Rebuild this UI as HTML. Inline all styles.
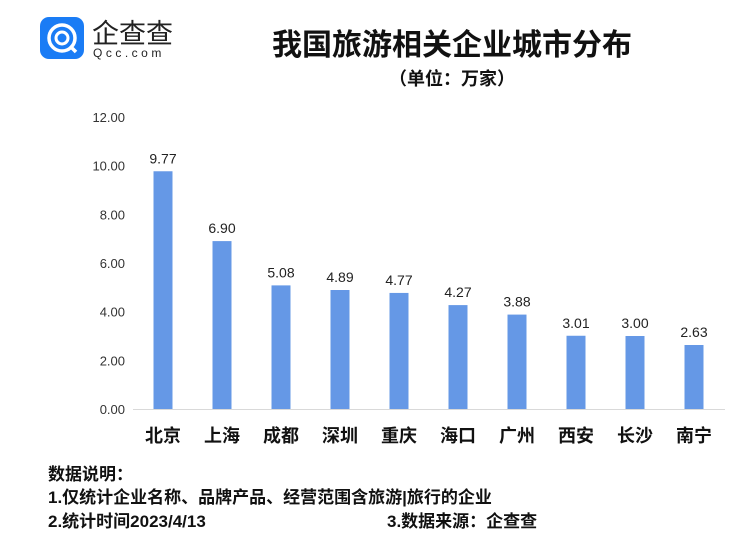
<!DOCTYPE html>
<html><head><meta charset="utf-8"><style>
body{margin:0;width:755px;height:549px;background:#fff;overflow:hidden;font-family:"Liberation Sans","Noto Sans CJK SC",sans-serif;}
</style></head><body>
<svg width="755" height="549" xmlns="http://www.w3.org/2000/svg">
<g>
<rect x="40" y="17" width="44" height="42" rx="9" fill="#1a7cf5"/>
<circle cx="62" cy="38" r="13" fill="none" stroke="#fff" stroke-width="3.5"/>
<circle cx="62" cy="38" r="6" fill="none" stroke="#fff" stroke-width="3"/>
<line x1="70" y1="46" x2="76" y2="52" stroke="#fff" stroke-width="3.5"/>
<text x="92" y="43" font-size="27" fill="#222" font-family="'Noto Sans CJK SC',sans-serif">企查查</text>
<text x="93" y="57" font-size="12" fill="#222" letter-spacing="3.5">Qcc.com</text>
</g>
<text x="452" y="55" font-size="30" font-weight="bold" text-anchor="middle" fill="#111">我国旅游相关企业城市分布</text>
<text x="452" y="85" font-size="18" font-weight="bold" text-anchor="middle" fill="#111">（单位：万家）</text>
<g id="yaxis"></g>
<line x1="133" y1="409.5" x2="725" y2="409.5" stroke="#d9d9d9" stroke-width="1"/>
<g id="bars"></g>
<g font-size="17" font-weight="bold" fill="#111">
<text x="48" y="480">数据说明：</text>
<text x="48" y="503">1.仅统计企业名称、品牌产品、经营范围含旅游|旅行的企业</text>
<text x="48" y="527">2.统计时间2023/4/13</text>
<text x="387" y="527">3.数据来源：企查查</text>
</g>
</svg>
<script>
const categories=["北京","上海","成都","深圳","重庆","海口","广州","西安","长沙","南宁"];
const values=[9.77,6.90,5.08,4.89,4.77,4.27,3.88,3.01,3.00,2.63];
const yTicks=[0,2,4,6,8,10,12];
const ns="http://www.w3.org/2000/svg";
const y=v=>409-v*(292/12);
const x=i=>163+i*59;
const ya=document.getElementById('yaxis'),bg=document.getElementById('bars');
function mk(tag,at,txt){const e=document.createElementNS(ns,tag);for(const k in at)e.setAttribute(k,at[k]);if(txt!=null)e.textContent=txt;return e;}
yTicks.forEach(t=>{const e=mk('text',{x:125,y:y(t)+5,'font-size':13,'text-anchor':'end',fill:'#333'},t.toFixed(2));

ya.appendChild(e);});
categories.forEach((c,i)=>{
const r=mk('rect',{x:x(i)-9.5,y:y(values[i]),width:19,height:409-y(values[i]),fill:'#6598e6'});

bg.appendChild(r);
const l=mk('text',{x:x(i),y:y(values[i])-8,'font-size':14,'text-anchor':'middle',fill:'#222'},values[i].toFixed(2));

bg.appendChild(l);
const cl=mk('text',{x:x(i),y:442,'font-size':18,'font-weight':'bold','text-anchor':'middle',fill:'#111'},c);

bg.appendChild(cl);
});
</script>
</body></html>
